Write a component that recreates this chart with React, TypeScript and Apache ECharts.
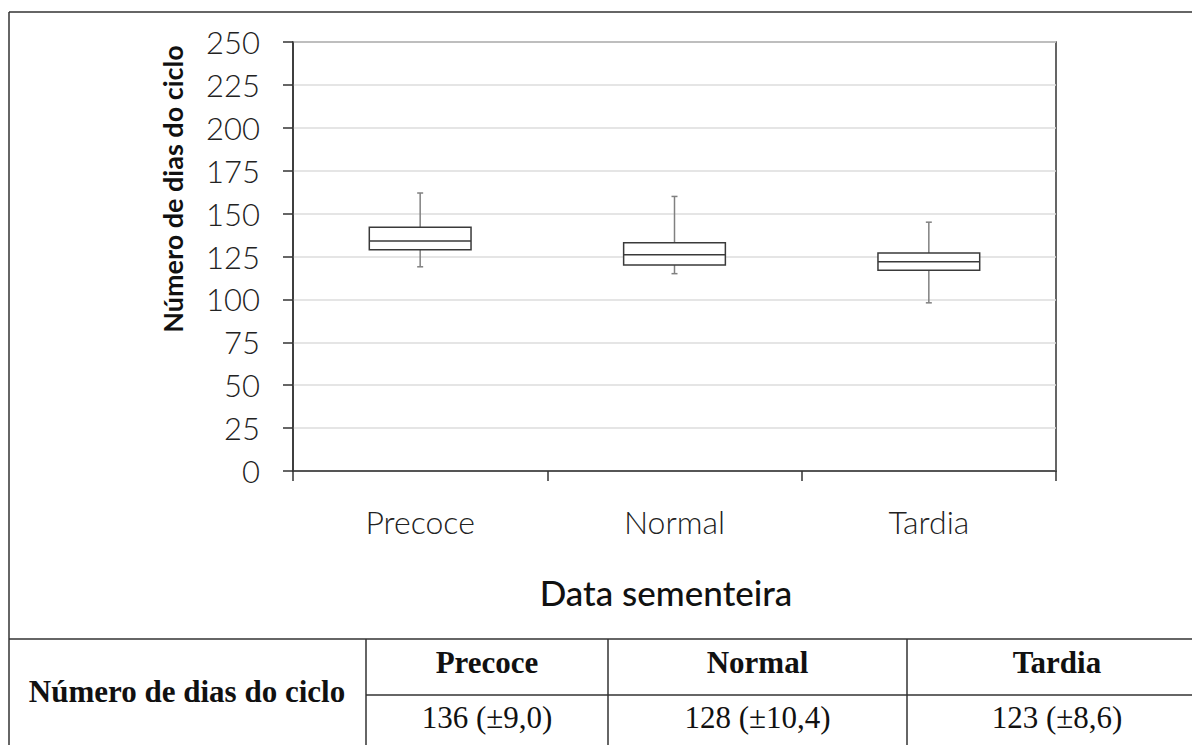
import React, { useEffect, useRef } from "react";
import * as echarts from "echarts";

const categories = ["Precoce", "Normal", "Tardia"];
const whiskerLow = [119, 115, 98];
const q1 = [129, 120, 117];
const median = [134, 126, 122];
const q3 = [142, 133, 127];
const whiskerHigh = [162, 160, 145];
const yTicks = [0, 25, 50, 75, 100, 125, 150, 175, 200, 225, 250];
const tableHeaders = ["Precoce", "Normal", "Tardia"];
const tableValues = ["136 (±9,0)", "128 (±10,4)", "123 (±8,6)"];
const rowLabel = "Número de dias do ciclo";
const yTitle = "Número de dias do ciclo";
const xTitle = "Data sementeira";

const W = 1192;
const H = 745;

export default function App() {
  const ref = useRef<HTMLDivElement>(null);
  useEffect(() => {
    if (!ref.current) return;
    const chart = echarts.init(ref.current, undefined, { renderer: "svg", width: W, height: H });
    const data = categories.map((_, i) => [i, whiskerLow[i], q1[i], median[i], q3[i], whiskerHigh[i]]);
    const sans = "Lato, 'Open Sans', sans-serif";
    const serif = "'Liberation Serif', 'DejaVu Serif', serif";
    const lineStyle = { stroke: "#333", lineWidth: 1.5 };
    const colX = [9, 366, 608, 907, 1207];
    const graphic: any[] = [
      { type: "line", shape: { x1: 9, y1: 12, x2: W, y2: 12 }, style: lineStyle },
      { type: "line", shape: { x1: 9, y1: 12, x2: 9, y2: H }, style: lineStyle },
      { type: "line", shape: { x1: 9, y1: 639, x2: W, y2: 639 }, style: lineStyle },
      { type: "line", shape: { x1: 366, y1: 695, x2: W, y2: 695 }, style: lineStyle },
      { type: "line", shape: { x1: 366, y1: 639, x2: 366, y2: H }, style: lineStyle },
      { type: "line", shape: { x1: 608, y1: 639, x2: 608, y2: H }, style: lineStyle },
      { type: "line", shape: { x1: 907, y1: 639, x2: 907, y2: H }, style: lineStyle },
      {
        type: "text",
        x: 187,
        y: 691,
        style: { text: rowLabel, font: `bold 31px ${serif}`, fill: "#111", textAlign: "center", textVerticalAlign: "middle" },
      },
      {
        type: "text",
        x: 172,
        y: 189,
        rotation: Math.PI / 2,
        style: { text: yTitle, font: `bold 27px ${sans}`, fill: "#111", textAlign: "center", textVerticalAlign: "middle" },
      },
      {
        type: "text",
        x: 666,
        y: 592,
        style: { text: xTitle, font: `500 35px ${sans}`, fill: "#111", textAlign: "center", textVerticalAlign: "middle" },
      },
    ];
    tableHeaders.forEach((h, i) => {
      const cx = (colX[i + 1] + colX[i + 2]) / 2;
      graphic.push({
        type: "text",
        x: cx,
        y: 662,
        style: { text: h, font: `bold 31px ${serif}`, fill: "#111", textAlign: "center", textVerticalAlign: "middle" },
      });
      graphic.push({
        type: "text",
        x: cx,
        y: 717,
        style: { text: tableValues[i], font: `31px ${serif}`, fill: "#111", textAlign: "center", textVerticalAlign: "middle" },
      });
    });

    chart.setOption({
      animation: false,
      backgroundColor: "#fff",
      grid: {
        left: 293,
        right: W - 1056,
        top: 42,
        bottom: H - 471,
        show: true,
        borderColor: "#333",
        borderWidth: 1.5,
        backgroundColor: "transparent",
      },
      xAxis: {
        type: "category",
        data: categories,
        boundaryGap: true,
        axisLine: { lineStyle: { color: "#333", width: 1.5 } },
        axisTick: { show: true, length: 10, inside: false, lineStyle: { color: "#333", width: 1.5 } },
        axisLabel: { fontFamily: sans, fontWeight: 300, fontSize: 32, color: "#222", margin: 34 },
      },
      yAxis: {
        type: "value",
        min: yTicks[0],
        max: yTicks[yTicks.length - 1],
        interval: 25,
        axisLine: { show: true, lineStyle: { color: "#333", width: 1.5 } },
        axisTick: { show: true, length: 10, lineStyle: { color: "#333", width: 1.5 } },
        axisLabel: { fontFamily: sans, fontWeight: 300, fontSize: 31, color: "#222", margin: 33 },
        splitLine: { show: true, lineStyle: { color: "#dcdcdc", width: 1.5 } },
      },
      graphic,
      series: [
        {
          type: "custom",
          data,
          encode: { x: 0, y: [1, 2, 3, 4, 5] },
          renderItem: (params: any, api: any) => {
            const idx = api.value(0);
            const pLow = api.coord([idx, api.value(1)]);
            const pQ1 = api.coord([idx, api.value(2)]);
            const pMed = api.coord([idx, api.value(3)]);
            const pQ3 = api.coord([idx, api.value(4)]);
            const pHigh = api.coord([idx, api.value(5)]);
            const bw = api.size([1, 0])[0] * 0.4;
            const cx = pMed[0];
            const gray = { stroke: "#808080", lineWidth: 1.5 };
            const dark = { stroke: "#3a3a3a", lineWidth: 1.5 };
            return {
              type: "group",
              children: [
                { type: "line", shape: { x1: cx, y1: pHigh[1], x2: cx, y2: pQ3[1] }, style: gray },
                { type: "line", shape: { x1: cx, y1: pQ1[1], x2: cx, y2: pLow[1] }, style: gray },
                { type: "line", shape: { x1: cx - 3, y1: pHigh[1], x2: cx + 3, y2: pHigh[1] }, style: gray },
                { type: "line", shape: { x1: cx - 3, y1: pLow[1], x2: cx + 3, y2: pLow[1] }, style: gray },
                {
                  type: "rect",
                  shape: { x: cx - bw / 2, y: pQ3[1], width: bw, height: pQ1[1] - pQ3[1] },
                  style: { fill: "#fff", stroke: "#3a3a3a", lineWidth: 1.5 },
                },
                { type: "line", shape: { x1: cx - bw / 2, y1: pMed[1], x2: cx + bw / 2, y2: pMed[1] }, style: dark },
              ],
            };
          },
        },
      ],
    });
    return () => chart.dispose();
  }, []);
  return <div ref={ref} style={{ position: "fixed", left: 0, top: 0, width: W, height: H, background: "#fff" }} />;
}
